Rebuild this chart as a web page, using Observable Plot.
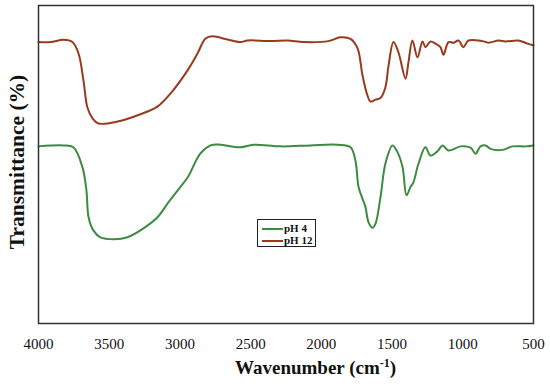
<!DOCTYPE html>
<html><head><meta charset="utf-8">
<script src="https://cdn.jsdelivr.net/npm/d3@7"></script>
<script src="https://cdn.jsdelivr.net/npm/@observablehq/plot@0.6"></script>
<style>
body{margin:0;background:#fff;}
#wrap{position:relative;width:550px;height:387px;font-family:"Liberation Serif","Times New Roman",serif;color:#111;}
#wrap svg text{font-family:"Liberation Serif","Times New Roman",serif;}
.xt{position:absolute;left:235px;top:357px;font-weight:bold;font-size:19px;white-space:nowrap;line-height:22px;}
.xt sup{font-size:12px;line-height:0;vertical-align:7px;}
.yt{position:absolute;left:17px;top:162px;transform:translate(-50%,-50%) rotate(-90deg);font-weight:bold;font-size:21.5px;white-space:nowrap;line-height:24px;}
.lg{position:absolute;left:257px;top:219px;width:57px;height:26px;border:1px solid #222;background:#fff;font-weight:bold;font-size:11px;}
.row{position:absolute;left:4px;height:11px;line-height:11px;white-space:nowrap;}
.sw{display:inline-block;width:21px;height:2px;vertical-align:middle;margin-right:1px;}
</style></head><body><div id="wrap"></div>
<script>
const wavenumberTicks = [4000,3500,3000,2500,2000,1500,1000,500];
const seriesNames = ["pH 4","pH 12"];
const seriesColors = ["#3d8b40","#983a1e"];

const pH12Wavenumber = [4000,3915,3823,3760,3717,3682,3654,3618,3576,3441,3279,3159,3067,2946,2876,2819,2770,2664,2572,2522,2360,2239,2126,1950,1865,1794,1744,1709,1674,1653,1617,1582,1547,1525,1490,1455,1405,1384,1356,1320,1285,1264,1228,1193,1158,1137,1101,1066,1030,995,960,861,818,747,698,606,542,500];
const pH12Transmittance = [88.5,88.5,89.2,88.5,84.9,76.4,67.9,64.5,62.9,63.5,65.8,68.2,72.3,79.6,84.9,89.6,90.3,89.3,88.5,89.0,88.8,89.0,88.5,88.8,90.0,89.5,86.5,78.0,71.7,69.8,70.4,70.9,74.3,81.1,88.5,85.3,77.0,82.2,89.0,83.7,88.7,86.9,88.7,88.0,86.9,84.5,88.5,88.3,89.0,86.9,89.0,88.8,88.3,89.0,88.7,89.0,88.0,87.4];

const pH4Wavenumber = [4000,3823,3753,3689,3661,3646,3611,3562,3470,3371,3258,3159,3088,3017,2946,2855,2784,2734,2572,2480,2289,2077,1886,1794,1759,1737,1709,1688,1667,1638,1617,1582,1547,1497,1462,1426,1398,1370,1349,1313,1264,1228,1179,1143,1101,1016,945,910,875,839,804,719,649,556,500];
const pH4Transmittance = [55.7,56.0,55.4,49.1,41.8,33.4,29.2,27.1,26.5,27.1,29.9,33.4,37.7,41.8,45.9,53.5,56.0,56.3,55.4,56.2,55.7,56.0,56.2,55.4,51.2,42.9,39.2,36.6,31.9,30.1,31.4,39.7,50.3,56.0,53.9,49.2,40.3,42.9,44.4,50.3,55.4,52.8,54.2,56.0,54.4,55.7,55.3,53.4,55.7,56.0,54.9,54.6,55.7,55.7,56.0];

const rows = [
  ...pH4Wavenumber.map((w,i)=>({series:seriesNames[0], wn:w, t:pH4Transmittance[i]})),
  ...pH12Wavenumber.map((w,i)=>({series:seriesNames[1], wn:w, t:pH12Transmittance[i]}))
];

const chart = Plot.plot({
  width:550, height:387,
  marginLeft:38, marginRight:17, marginTop:5, marginBottom:64,
  style:"font-family:'Liberation Serif','Times New Roman',serif;font-size:15px;color:#111;background:white;",
  x:{domain:[4000,500]},
  y:{domain:[0,100], axis:null},
  color:{domain:seriesNames, range:seriesColors},
  marks:[
    Plot.axisX(wavenumberTicks,{tickSize:0, tickPadding:15, label:null, fontSize:15, fontFamily:"Liberation Serif", tickFormat:d=>String(d)}),
    Plot.line(rows,{x:"wn", y:"t", z:"series", stroke:"series", curve:"catmull-rom", strokeWidth:2}),
    Plot.frame({stroke:"#333", strokeWidth:1.5})
  ]
});
const wrap = document.getElementById("wrap");
wrap.appendChild(chart);

const xt = document.createElement("div"); xt.className="xt";
xt.innerHTML = "Wavenumber (cm<sup>-1</sup>)"; wrap.appendChild(xt);
const yt = document.createElement("div"); yt.className="yt";
yt.textContent = "Transmittance (%)"; wrap.appendChild(yt);
const lg = document.createElement("div"); lg.className="lg";
seriesNames.forEach((n,i)=>{
  const r=document.createElement("div"); r.className="row"; r.style.top=(3+i*12)+"px";
  const s=document.createElement("span"); s.className="sw"; s.style.background=seriesColors[i];
  r.appendChild(s); r.appendChild(document.createTextNode(n)); lg.appendChild(r);
});
wrap.appendChild(lg);
</script></body></html>
